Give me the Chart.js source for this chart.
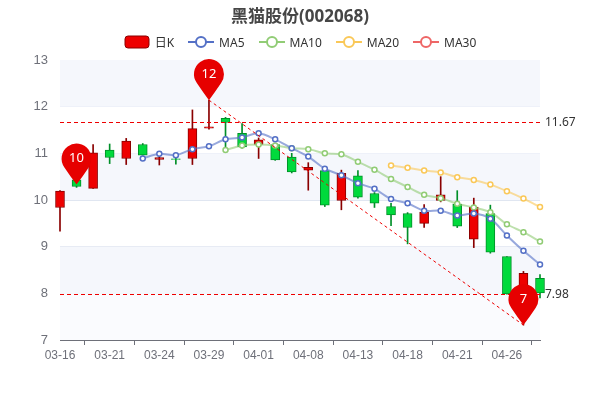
<!DOCTYPE html>
<html><head><meta charset="utf-8">
<script src="https://cdn.jsdelivr.net/npm/chart.js@4/dist/chart.umd.min.js"></script>
<style>
body{margin:0;background:#fff;font-family:"Noto Sans","Noto Sans CJK SC",sans-serif;}
#wrap{position:relative;width:600px;height:400px;}
#title{position:absolute;top:2px;left:0;width:600px;text-align:center;font-size:17px;color:#464646;font-weight:bold;}
#legend{position:absolute;top:33px;left:0;width:600px;display:flex;justify-content:center;gap:14px;font-size:12px;color:#333;}
#legend span{display:flex;align-items:center;gap:5px;}
canvas{position:absolute;top:0;left:0;}
</style></head><body>
<div id="wrap">
<canvas id="c" width="600" height="400"></canvas>
<div id="title">黑猫股份(002068)</div>
<div id="legend"></div>
</div>
<script>
const DATES = ['03-16','03-17','03-18','03-21','03-22','03-23','03-24','03-25','03-28','03-29','03-30','03-31',
  '04-01','04-06','04-07','04-08','04-11','04-12','04-13','04-14','04-15','04-18','04-19','04-20',
  '04-21','04-22','04-25','04-26','04-27','04-28'];
const OPEN  = [9.84,10.43,10.25,11.07,10.89,11.19,10.87,10.88,10.89,11.54,11.75,11.43,11.19,11.19,10.92,10.64,10.63,9.99,10.52,10.14,9.86,9.71,9.50,9.99,9.91,9.16,9.71,8.79,7.95,8.32];
const CLOSE = [10.19,10.29,11.01,10.91,11.26,10.96,10.91,10.87,11.53,11.57,11.66,11.14,11.29,10.86,10.60,10.70,9.89,10.57,10.06,9.93,9.68,9.41,9.74,10.11,9.44,9.85,8.88,7.99,8.43,8.01];
const HIGH  = [10.20,10.45,11.19,11.20,11.32,11.21,10.93,10.90,11.93,12.14,11.77,11.64,11.33,11.20,11.00,10.80,10.65,10.64,10.63,10.16,9.93,9.73,9.90,10.50,10.20,10.04,9.89,8.79,8.47,8.40];
const LOW   = [9.33,10.27,10.25,10.78,10.76,10.96,10.75,10.77,10.76,11.52,11.14,11.11,10.89,10.85,10.58,10.21,9.86,9.79,10.04,9.84,9.45,9.06,9.41,9.96,9.41,8.98,8.86,7.98,7.32,7.90];
const MA5  = [null,null,null,null,null,10.89,10.99,10.96,11.09,11.15,11.30,11.34,11.43,11.30,11.11,10.93,10.67,10.53,10.36,10.24,10.02,9.93,9.77,9.77,9.67,9.71,9.60,9.24,8.91,8.62];
const MA10 = [null,null,null,null,null,null,null,null,null,null,11.07,11.17,11.19,11.17,11.11,11.09,11.00,10.98,10.82,10.65,10.45,10.28,10.11,10.04,9.92,9.84,9.74,9.48,9.31,9.11];
const MA20 = [null,null,null,null,null,null,null,null,null,null,null,null,null,null,null,null,null,null,null,null,10.74,10.69,10.63,10.59,10.49,10.43,10.33,10.19,10.03,9.85];
const MA30 = DATES.map(() => null);
const Y_TICKS = [7, 8, 9, 10, 11, 12, 13];
const H_LINES = [11.67, 7.98];
const PINS = [{i: 1, v: 10.33, t: '10'}, {i: 9, v: 12.14, t: '12'}, {i: 28, v: 7.32, t: '7'}];
const TREND = [{i: 9, v: 12.14}, {i: 28, v: 7.32}];

const UP = '#ee0000', UP_B = '#8a0000', DN = '#00da3c', DN_B = '#008f28';
const MA_COLORS = {MA5: '#5470c6', MA10: '#91cc75', MA20: '#fac858', MA30: '#ee6666'};

// legend
var lg = document.getElementById('legend');
lg.innerHTML = '<span><svg width="26" height="14"><rect x="1" y="1" width="24" height="12" rx="3" fill="' + UP + '" stroke="' + UP_B + '"/></svg>日K</span>' +
  Object.keys(MA_COLORS).map(function(k) {
    var c = MA_COLORS[k];
    return '<span><svg width="26" height="14"><line x1="0" y1="7" x2="26" y2="7" stroke="' + c + '" stroke-width="2"/><circle cx="13" cy="7" r="5" fill="#fff" stroke="' + c + '" stroke-width="2"/></svg>' + k + '</span>';
  }).join('');

var up = OPEN.map(function(o, i) { return CLOSE[i] >= o; });

function maSet(label, data) {
  var c = MA_COLORS[label];
  return {type: 'line', label: label, data: data, borderColor: c + '99', borderWidth: 2,
    pointRadius: 2.5, pointBackgroundColor: '#fff', pointBorderColor: c, pointBorderWidth: 1.5,
    tension: 0.3, order: 0};
}

var overlay = {
  id: 'overlay',
  beforeDatasetsDraw: function(chart) {
    var ctx = chart.ctx, a = chart.chartArea, y = chart.scales.y;
    ctx.save();
    ctx.fillStyle = '#f5f7fc';
    for (var v = 8; v < 13; v += 2) {
      ctx.fillRect(a.left, y.getPixelForValue(v + 1), a.right - a.left, y.getPixelForValue(v) - y.getPixelForValue(v + 1));
    }
    ctx.fillStyle = '#fafbfe';
    ctx.fillRect(a.left, y.getPixelForValue(8), a.right - a.left, y.getPixelForValue(7) - y.getPixelForValue(8));
    ctx.restore();
  },
  afterDatasetsDraw: function(chart) {
    var ctx = chart.ctx, a = chart.chartArea, x = chart.scales.x, y = chart.scales.y;
    ctx.save();
    ctx.strokeStyle = '#ee0000'; ctx.lineWidth = 1;
    ctx.setLineDash([4, 3]);
    H_LINES.forEach(function(v) {
      var py = Math.round(y.getPixelForValue(v)) + 0.5;
      ctx.beginPath(); ctx.moveTo(a.left, py); ctx.lineTo(a.right, py); ctx.stroke();
      ctx.fillStyle = '#333'; ctx.font = '12px "Noto Sans"'; ctx.textBaseline = 'middle';
      ctx.fillText(v.toFixed(2), a.right + 5, py);
    });
    ctx.setLineDash([3, 3]);
    ctx.beginPath();
    ctx.moveTo(x.getPixelForValue(TREND[0].i), y.getPixelForValue(TREND[0].v));
    ctx.lineTo(x.getPixelForValue(TREND[1].i), y.getPixelForValue(TREND[1].v));
    ctx.stroke();
    ctx.setLineDash([]);
    PINS.forEach(function(p) {
      var px = x.getPixelForValue(p.i), py = y.getPixelForValue(p.v);
      var cy = py - 26, r = 15;
      ctx.fillStyle = '#e60000';
      ctx.beginPath();
      ctx.arc(px, cy, r, Math.PI * 0.8, Math.PI * 2.2);
      ctx.quadraticCurveTo(px + 6, cy + 18, px, py);
      ctx.quadraticCurveTo(px - 6, cy + 18, px - r * Math.cos(Math.PI * 0.2), cy + r * Math.sin(Math.PI * 0.2));
      ctx.fill();
      ctx.fillStyle = '#fff'; ctx.font = '13px "Noto Sans"';
      ctx.textAlign = 'center'; ctx.textBaseline = 'middle';
      ctx.fillText(p.t, px, cy);
    });
    ctx.restore();
  }
};

new Chart(document.getElementById('c'), {
  type: 'bar',
  data: {
    labels: DATES,
    datasets: [
      {label: 'wick', data: LOW.map(function(l, i) { return [l, HIGH[i]]; }),
        backgroundColor: up.map(function(u) { return u ? UP_B : DN_B; }),
        barThickness: 1, grouped: false, order: 2, clip: false},
      {label: '日K', data: OPEN.map(function(o, i) { return [o, CLOSE[i]]; }),
        backgroundColor: up.map(function(u) { return u ? UP : DN; }),
        borderColor: up.map(function(u) { return u ? UP_B : DN_B; }),
        borderWidth: 1, borderSkipped: false, barThickness: 9, grouped: false, order: 1, clip: false},
      maSet('MA5', MA5), maSet('MA10', MA10), maSet('MA20', MA20), maSet('MA30', MA30)
    ]
  },
  options: {
    responsive: false, animation: false,
    layout: {padding: {top: 60, right: 60, left: 0, bottom: 0}},
    plugins: {legend: {display: false}, tooltip: {enabled: false}},
    scales: {
      x: {offset: false,
        afterFit: function(s) { s.height = 60; },
        grid: {drawOnChartArea: false, color: '#6e7079', tickLength: 5},
        border: {color: '#6e7079'},
        ticks: {autoSkip: false, maxRotation: 0, color: '#6e7079', font: {size: 12},
          callback: function(v, i) { return i % 3 === 0 ? DATES[i] : null; }}},
      y: {min: Y_TICKS[0], max: Y_TICKS[Y_TICKS.length - 1],
        afterFit: function(s) { s.width = 60; },
        afterBuildTicks: function(s) { s.ticks = Y_TICKS.map(function(v) { return {value: v}; }); },
        grid: {color: '#e0e6f1', drawTicks: false}, border: {display: false},
        ticks: {color: '#6e7079', font: {size: 13}, padding: 12}}
    }
  },
  plugins: [overlay]
});
</script>
</body></html>
